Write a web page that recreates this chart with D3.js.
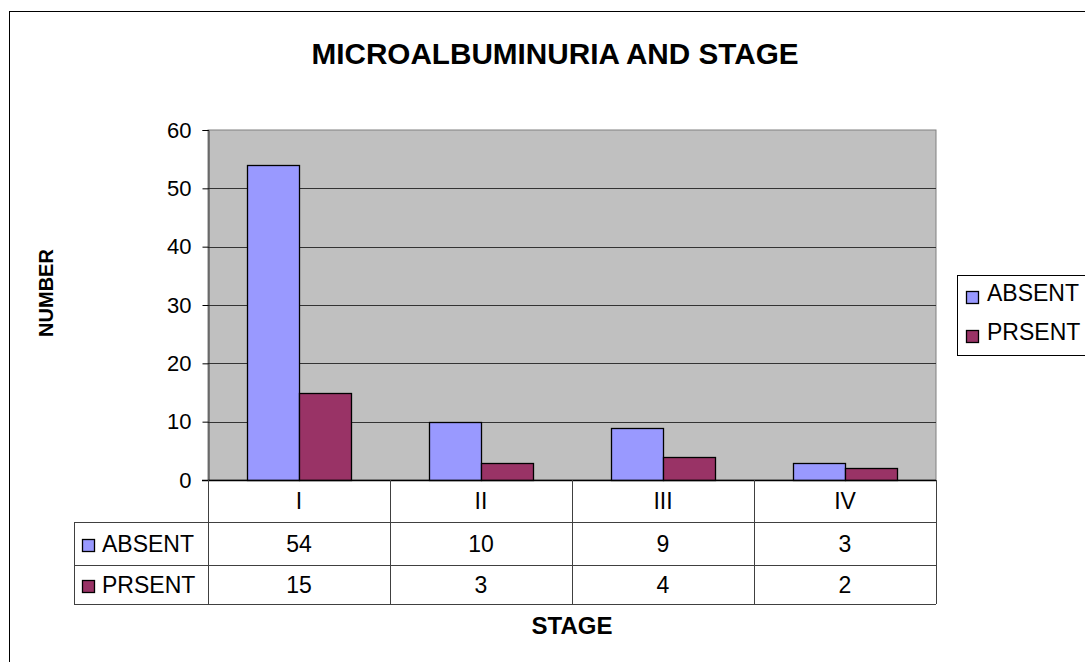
<!DOCTYPE html>
<html>
<head>
<meta charset="utf-8">
<script src="https://cdn.jsdelivr.net/npm/d3@7"></script>
<style>
  body { margin: 0; background: #fff; }
  svg { display: block; font-family: "Liberation Sans", Arial, sans-serif; }
</style>
</head>
<body>
<div id="chart"></div>
<script>
const STAGES = ["I", "II", "III", "IV"];
const SERIES = ["ABSENT", "PRSENT"];
const ABSENT = [54, 10, 9, 3];
const PRSENT = [15, 3, 4, 2];
const Y_TICKS = [0, 10, 20, 30, 40, 50, 60];

const COLORS = ["#9999ff", "#993366"];

const width = 1085, height = 662;
const plot = { left: 208, right: 936, top: 130, bottom: 480 };
const tableLeft = 74;
const rowLines = [480, 522, 565, 604];

let svg = d3.select("#chart").append("svg")
  .attr("width", width)
  .attr("height", height);

// outer chart border (runs off the right and bottom edge)
svg.append("rect")
  .attr("x", 9.5).attr("y", 11.5)
  .attr("width", 1200).attr("height", 800)
  .attr("fill", "#fff")
  .attr("stroke", "#000");

let x = d3.scaleBand()
  .domain(STAGES)
  .range([plot.left, plot.right])
  .paddingInner(78 / 182)
  .paddingOuter(39 / 182);

let xs = d3.scaleBand()
  .domain(SERIES)
  .range([0, x.bandwidth()]);

let y = d3.scaleLinear()
  .domain([0, 60])
  .range([plot.bottom, plot.top]);

// plot background
svg.append("rect")
  .attr("x", plot.left).attr("y", plot.top)
  .attr("width", plot.right - plot.left)
  .attr("height", plot.bottom - plot.top)
  .attr("fill", "#c0c0c0")
  .attr("stroke", "#808080");

// gridlines
svg.append("g")
  .selectAll("line")
  .data(Y_TICKS.filter(d => d > 0 && d < 60))
  .join("line")
  .attr("x1", plot.left).attr("x2", plot.right)
  .attr("y1", d => Math.round(y(d)) + 0.5)
  .attr("y2", d => Math.round(y(d)) + 0.5)
  .attr("stroke", "#333");

// y axis
let yAxis = svg.append("g")
  .attr("transform", `translate(${plot.left + 0.5},0)`)
  .call(d3.axisLeft(y).tickValues(Y_TICKS).tickSize(6).tickPadding(11));
yAxis.select(".domain").attr("stroke", "#333");
yAxis.selectAll(".tick line").attr("stroke", "#000");
yAxis.selectAll("text")
  .attr("font-size", 22)
  .attr("fill", "#000")
  .style("font-family", "Liberation Sans, Arial, sans-serif");

// bars
let data = STAGES.map((s, i) => ({ stage: s, values: [ABSENT[i], PRSENT[i]] }));
let groups = svg.append("g")
  .selectAll("g")
  .data(data)
  .join("g")
  .attr("transform", d => `translate(${x(d.stage)},0)`);

groups.selectAll("rect")
  .data(d => d.values.map((v, j) => ({ key: SERIES[j], value: v, color: COLORS[j] })))
  .join("rect")
  .attr("x", d => Math.round(xs(d.key)) + 0.5)
  .attr("y", d => Math.round(y(d.value)) + 0.5)
  .attr("width", xs.bandwidth())
  .attr("height", d => Math.round(y(0)) - Math.round(y(d.value)))
  .attr("fill", d => d.color)
  .attr("stroke", "#000")
  .attr("stroke-width", 1.3);

// x axis line
svg.append("line")
  .attr("x1", plot.left - 6).attr("x2", plot.right)
  .attr("y1", plot.bottom + 0.5).attr("y2", plot.bottom + 0.5)
  .attr("stroke", "#000").attr("stroke-width", 1.3);

// data table
let table = svg.append("g").attr("stroke", "#404040");
table.selectAll("line.h")
  .data(rowLines.slice(1))
  .join("line")
  .attr("x1", tableLeft).attr("x2", plot.right)
  .attr("y1", d => d + 0.5).attr("y2", d => d + 0.5);
table.append("line")
  .attr("x1", tableLeft + 0.5).attr("x2", tableLeft + 0.5)
  .attr("y1", rowLines[1]).attr("y2", rowLines[3]);
let colEdges = STAGES.map(s => x(s) - x.step() * 39 / 182).concat([plot.right]);
table.selectAll("line.v")
  .data(colEdges)
  .join("line")
  .attr("x1", d => Math.round(d) + 0.5).attr("x2", d => Math.round(d) + 0.5)
  .attr("y1", rowLines[0]).attr("y2", rowLines[3]);

let cellCenter = s => x(s) + x.bandwidth() / 2;

svg.append("g")
  .selectAll("text")
  .data(STAGES)
  .join("text")
  .attr("x", cellCenter)
  .attr("y", (rowLines[0] + rowLines[1]) / 2)
  .attr("dy", "0.35em")
  .attr("text-anchor", "middle")
  .attr("font-size", 23)
  .text(d => d);

[ABSENT, PRSENT].forEach((vals, j) => {
  let cy = (rowLines[j + 1] + rowLines[j + 2]) / 2;
  svg.append("g")
    .selectAll("text")
    .data(vals)
    .join("text")
    .attr("x", (d, i) => cellCenter(STAGES[i]))
    .attr("y", cy)
    .attr("dy", "0.35em")
    .attr("text-anchor", "middle")
    .attr("font-size", 23)
    .text(d => d);

  svg.append("rect")
    .attr("x", 82.5).attr("y", Math.round(cy) - 4.5)
    .attr("width", 12).attr("height", 12)
    .attr("fill", COLORS[j]).attr("stroke", "#000").attr("stroke-width", 1.3);
  svg.append("text")
    .attr("x", 102).attr("y", cy)
    .attr("dy", "0.35em")
    .attr("font-size", 23)
    .text(SERIES[j]);
});

// legend
let legend = svg.append("g");
legend.append("rect")
  .attr("x", 957.5).attr("y", 275.5)
  .attr("width", 200).attr("height", 80)
  .attr("fill", "#fff").attr("stroke", "#000");
let legendRows = [293, 332];
SERIES.forEach((s, j) => {
  legend.append("rect")
    .attr("x", 966.5).attr("y", legendRows[j] - 1.5)
    .attr("width", 12).attr("height", 12)
    .attr("fill", COLORS[j]).attr("stroke", "#000").attr("stroke-width", 1.3);
  legend.append("text")
    .attr("x", 987).attr("y", legendRows[j])
    .attr("dy", "0.35em")
    .attr("font-size", 23)
    .text(s);
});

// titles
svg.append("text")
  .attr("x", 555).attr("y", 54)
  .attr("dy", "0.35em")
  .attr("text-anchor", "middle")
  .attr("font-size", 29.7)
  .attr("font-weight", "bold")
  .text("MICROALBUMINURIA AND STAGE");

svg.append("text")
  .attr("transform", "translate(46,293) rotate(-90)")
  .attr("dy", "0.35em")
  .attr("text-anchor", "middle")
  .attr("font-size", 20)
  .attr("font-weight", "bold")
  .text("NUMBER");

svg.append("text")
  .attr("x", (plot.left + plot.right) / 2).attr("y", 626)
  .attr("dy", "0.35em")
  .attr("text-anchor", "middle")
  .attr("font-size", 24)
  .attr("font-weight", "bold")
  .text("STAGE");
</script>
</body>
</html>
